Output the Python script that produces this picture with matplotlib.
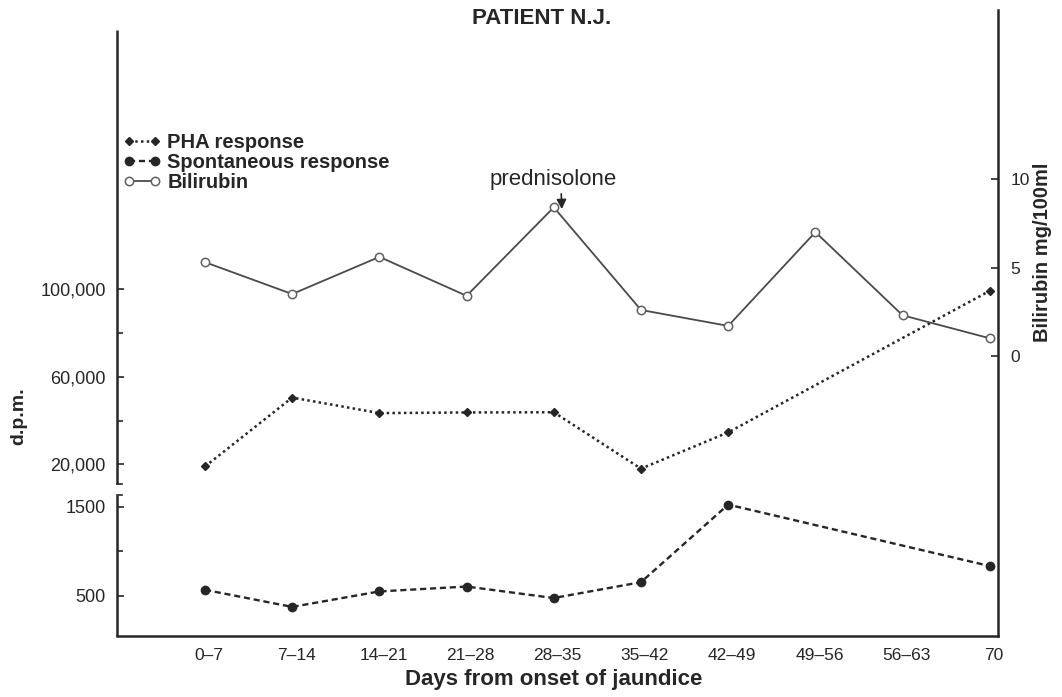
import numpy as np
import matplotlib
matplotlib.use("Agg")
import matplotlib.pyplot as plt
from matplotlib import font_manager
from matplotlib.lines import Line2D
from matplotlib.transforms import ScaledTranslation

# ---- data -------------------------------------------------------------
periods = ["0–7", "7–14", "14–21", "21–28", "28–35", "35–42",
           "42–49", "49–56", "56–63", "70"]
pha_dpm = [19000, 50500, 43400, 43700, 43800, 18000, 34600, np.nan, np.nan, 99300]
spont_dpm = [566, 374, 548, 603, 474, 652, 1570, np.nan, np.nan, 833]
bilirubin = [5.3, 3.5, 5.6, 3.4, 8.4, 2.6, 1.7, 7.0, 2.3, 1.0]

dpm_major = [500, 1500, 20000, 60000, 100000]
dpm_major_labels = ["500", "1500", "20,000", "60,000", "100,000"]
dpm_minor = [1000, 40000, 80000]
bili_ticks = [0, 5, 10]

# ---- fonts ------------------------------------------------------------
installed = {f.name for f in font_manager.fontManager.ttflist}
BASE = "Liberation Sans"
NARROW = "Liberation Sans Narrow" if "Liberation Sans Narrow" in installed else BASE
plt.rcParams["font.family"] = [BASE, "DejaVu Sans"]

INK = "#262626"
GREY = "#4a4a4a"

W, H, DPI = 1062, 697, 100
fig = plt.figure(figsize=(W / DPI, H / DPI), dpi=DPI)
fig.patch.set_facecolor("white")

# axes box in pixels, measured from the top-left corner of the figure
AX_L, AX_R, AX_T, AX_B = 117, 998, 10, 636
ax = fig.add_axes([AX_L / W, 1 - AX_B / H, (AX_R - AX_L) / W, (AX_B - AX_T) / H])
AXH = AX_B - AX_T

# ---- broken d.p.m. scale ---------------------------------------------
# a generous linear segment for the spontaneous counts (< 1500) and a
# compressed linear segment for the PHA-stimulated counts above it
LO_P0, LO_V0, LO_K = 40.3, 500.0, 0.089
HI_P0, HI_V0, HI_K = 171.7, 20000.0, 0.0021875
BREAK = 1500.0
LO_TOP = LO_P0 + (BREAK - LO_V0) * LO_K
HI_BOT = HI_P0 + (BREAK - HI_V0) * HI_K


def fwd(v):
    v = np.asarray(v, dtype=float)
    return np.where(v <= BREAK, LO_P0 + (v - LO_V0) * LO_K, HI_P0 + (v - HI_V0) * HI_K)


def inv(p):
    p = np.asarray(p, dtype=float)
    return np.where(p <= LO_TOP, LO_V0 + (p - LO_P0) / LO_K,
                    np.where(p < HI_BOT, BREAK, HI_V0 + (p - HI_P0) / HI_K))


ax.set_yscale("function", functions=(fwd, inv))
ax.set_ylim(float(inv(0.0)), float(inv(float(AXH))))

x = np.arange(len(periods))
STEP = 87.2
X0 = 205
ax.set_xlim((AX_L - X0) / STEP, (AX_R - X0) / STEP)

pha = np.array(pha_dpm, dtype=float)
spont = np.array(spont_dpm, dtype=float)
bili = np.array(bilirubin, dtype=float)
mp = ~np.isnan(pha)
ms = ~np.isnan(spont)

l_pha, = ax.plot(x[mp], pha[mp], linestyle=(0, (1, 1.3)), lw=1.8, color=INK,
                 marker="D", ms=4.2, mfc=INK, mec=INK, dash_capstyle="butt",
                 label="PHA response", zorder=3)
l_spo, = ax.plot(x[ms], spont[ms], linestyle=(0, (2.6, 1.6)), lw=1.7, color=INK,
                 marker="o", ms=6, mfc=INK, mec=INK, label="Spontaneous response",
                 zorder=3)

ax2 = ax.twinx()
B0_PX, B_K = 280.0, 17.7
ax2.set_ylim(-B0_PX / B_K, (AXH - B0_PX) / B_K)
l_bil, = ax2.plot(x, bili, "-", lw=1.3, color=GREY, marker="o", ms=6,
                  mfc="white", mec="#606060", mew=1.1, label="Bilirubin", zorder=3)

# ---- spines -----------------------------------------------------------
for s in ("top", "left", "right"):
    ax.spines[s].set_visible(False)
ax.spines["bottom"].set_linewidth(1.8)
ax.spines["bottom"].set_color(INK)
for s in ("top", "left", "bottom"):
    ax2.spines[s].set_visible(False)
ax2.spines["right"].set_linewidth(1.8)
ax2.spines["right"].set_color(INK)

# left axis drawn in two pieces with a gap at the scale break
gap_lo = (AX_B - 495) / AXH
gap_hi = (AX_B - 484) / AXH
left_top = (AX_B - 30) / AXH
for y0, y1 in [(0.0, gap_lo), (gap_hi, left_top)]:
    ax.add_line(Line2D([0, 0], [y0, y1], transform=ax.transAxes, color=INK,
                       lw=1.8, solid_capstyle="butt", clip_on=False))
for yb in (gap_lo, gap_hi):
    ax.add_line(Line2D([0, 0.006], [yb, yb], transform=ax.transAxes, color=INK,
                       lw=1.2, clip_on=False))

# ---- ticks ------------------------------------------------------------
ax.set_yticks(dpm_major, dpm_major_labels)
ax.set_yticks(dpm_minor, minor=True)
ax.tick_params(axis="y", which="both", direction="in", left=True, right=False,
               width=1.2, colors=INK, pad=8, labelsize=13)
ax.tick_params(axis="y", which="major", length=5)
ax.tick_params(axis="y", which="minor", length=4)

ax.set_xticks(x, periods)
ax.tick_params(axis="x", length=0, pad=9, labelsize=12.5, colors=INK)
shift = ScaledTranslation(4 / DPI, 0, fig.dpi_scale_trans)
for lab in ax.get_xticklabels():
    lab.set_transform(lab.get_transform() + shift)

ax2.set_yticks(bili_ticks)
ax2.tick_params(axis="y", direction="in", length=5, width=1.2, colors=INK,
                pad=9, labelsize=12.5)

# ---- text -------------------------------------------------------------
fig.text(542 / W, 1 - 19 / H, "PATIENT N.J.", ha="center", va="center",
         fontsize=16, fontweight="bold", color=INK, family=[NARROW, "DejaVu Sans"])
fig.text(554 / W, 1 - 679 / H, "Days from onset of jaundice", ha="center",
         va="center", fontsize=16, fontweight="bold", color=INK)
fig.text(19 / W, 1 - 416 / H, "d.p.m.", rotation=90, ha="center", va="center",
         fontsize=14, fontweight="bold", color=INK)
fig.text(1042 / W, 1 - 252 / H, "Bilirubin mg/100ml", rotation=90, ha="center",
         va="center", fontsize=14.5, fontweight="bold", color=INK)

ax2.annotate("prednisolone", xy=(4 + 8 / STEP, bili[4] - 0.1), xytext=(-6, 14),
             textcoords="offset points", ha="center", va="bottom", fontsize=16,
             color=INK,
             arrowprops=dict(arrowstyle="-|>,head_length=0.35,head_width=0.18",
                             color=INK, lw=1.2, relpos=(0.56, 0.0),
                             shrinkA=1, shrinkB=0))

leg = ax.legend(handles=[l_pha, l_spo, l_bil], loc="upper left",
                bbox_to_anchor=(123 / W, 1 - 133 / H), bbox_transform=fig.transFigure,
                frameon=False, borderpad=0, borderaxespad=0, numpoints=2,
                handlelength=1.9, handletextpad=0.3, labelspacing=0.05,
                prop={"size": 14.5, "weight": "bold"})
for t in leg.get_texts():
    t.set_color(INK)

fig.savefig("out.png", dpi=DPI, facecolor="white")
